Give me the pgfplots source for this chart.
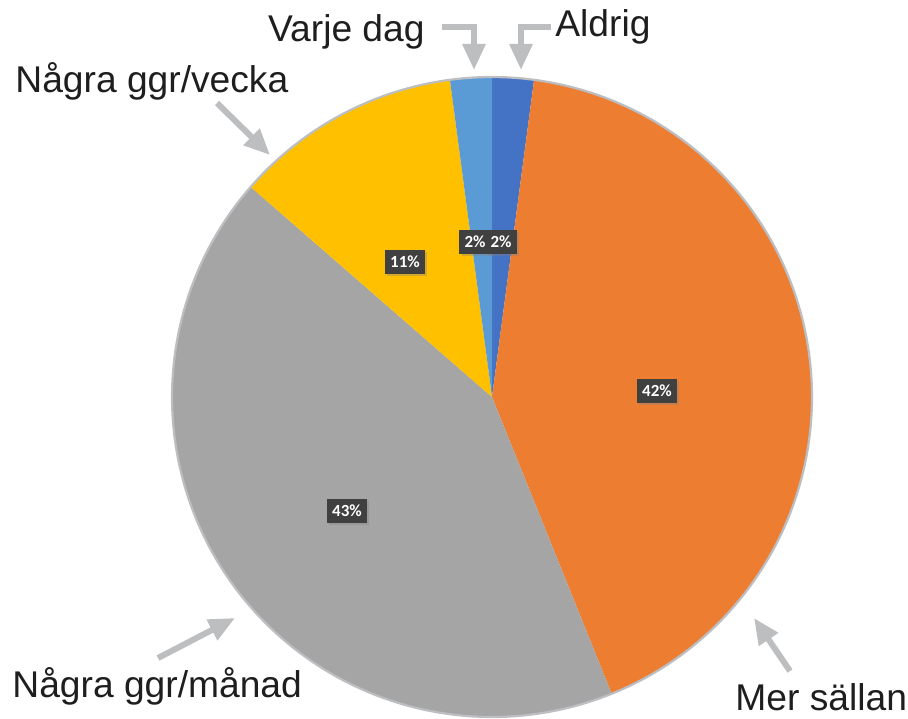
\documentclass[border=0pt]{standalone}
\usepackage{pgfplots}
\pgfplotsset{compat=1.18}
\usepackage{pgfplotstable}
\usepackage{fontspec}
\setmainfont{Liberation Sans}
\newfontfamily\dlfont{Carlito}
\usetikzlibrary{arrows.meta,shadows}
\definecolor{cA}{HTML}{4472C4}
\definecolor{cB}{HTML}{ED7D31}
\definecolor{cC}{HTML}{A5A5A5}
\definecolor{cD}{HTML}{FFC000}
\definecolor{cE}{HTML}{5B9BD5}
\definecolor{rim}{HTML}{BCBEC2}
\definecolor{arr}{HTML}{BDBEC0}
\definecolor{lbl}{HTML}{404040}
\definecolor{txt}{HTML}{1E1E1E}

\pgfplotstableread{
name value
Aldrig 2.1
MerSallan 41.8
NagraManad 42.5
NagraVecka 11.5
VarjeDag 2.1
}\piedata

\pgfplotstablegetelem{0}{value}\of\piedata \let\vA\pgfplotsretval
\pgfplotstablegetelem{1}{value}\of\piedata \let\vB\pgfplotsretval
\pgfplotstablegetelem{2}{value}\of\piedata \let\vC\pgfplotsretval
\pgfplotstablegetelem{3}{value}\of\piedata \let\vD\pgfplotsretval
\pgfplotstablegetelem{4}{value}\of\piedata \let\vE\pgfplotsretval
\pgfmathsetmacro\aA{90}
\pgfmathsetmacro\aB{\aA-3.6*\vA}
\pgfmathsetmacro\aC{\aB-3.6*\vB}
\pgfmathsetmacro\aD{\aC-3.6*\vC}
\pgfmathsetmacro\aE{\aD-3.6*\vD}
\pgfmathsetmacro\aF{\aE-3.6*\vE}

\def\cx{492}
\def\cy{321}
\def\R{320}

\begin{document}
\begin{tikzpicture}
\begin{axis}[name=ax,
  scale only axis, width=454pt, height=359pt,
  xmin=0, xmax=908, ymin=0, ymax=718,
  hide axis, clip=true]
\addplot[fill=cA, draw=none, domain=\aB:\aA, samples=20] ({\cx+\R*cos(x)},{\cy+\R*sin(x)}) -- (axis cs:\cx,\cy) -- cycle;
\addplot[fill=cB, draw=none, domain=\aC:\aB, samples=120] ({\cx+\R*cos(x)},{\cy+\R*sin(x)}) -- (axis cs:\cx,\cy) -- cycle;
\addplot[fill=cC, draw=none, domain=\aD:\aC, samples=120] ({\cx+\R*cos(x)},{\cy+\R*sin(x)}) -- (axis cs:\cx,\cy) -- cycle;
\addplot[fill=cD, draw=none, domain=\aE:\aD, samples=40] ({\cx+\R*cos(x)},{\cy+\R*sin(x)}) -- (axis cs:\cx,\cy) -- cycle;
\addplot[fill=cE, draw=none, domain=\aF:\aE, samples=20] ({\cx+\R*cos(x)},{\cy+\R*sin(x)}) -- (axis cs:\cx,\cy) -- cycle;
\addplot[draw=rim, line width=1.1pt, domain=0:360, samples=240] ({\cx+\R*cos(x)},{\cy+\R*sin(x)});

% data labels
\tikzset{dl/.style={fill=lbl, text=white, font=\dlfont\bfseries\fontsize{8.5}{10}\selectfont,
  inner xsep=2.6pt, inner ysep=0pt, minimum height=12pt,
  drop shadow={opacity=0.35, shadow xshift=1.2pt, shadow yshift=-1.2pt}}}
\node[dl] at (axis cs:475,476) {2\%};
\node[dl] at (axis cs:501,476) {2\%};
\node[dl] at (axis cs:405,456) {11\%};
\node[dl] at (axis cs:657,327) {42\%};
\node[dl] at (axis cs:347,207) {43\%};

% arrows
\tikzset{ar/.style={draw=arr, line width=3pt, -{Triangle[length=13pt,width=11pt]}}}
\draw[ar] (axis cs:551,691) -- (axis cs:521,691) -- (axis cs:521,648);
\draw[ar] (axis cs:442,691) -- (axis cs:474,691) -- (axis cs:474,648);
\draw[ar] (axis cs:217,615) -- (axis cs:270,563);
\draw[ar] (axis cs:158,60) -- (axis cs:235,100);
\draw[ar] (axis cs:790,47) -- (axis cs:754,100);

% category labels
\tikzset{cl/.style={inner sep=0pt, text=txt, font=\fontsize{18.6}{22}\selectfont}}
\node[cl, anchor=base west] at (axis cs:555,681) {Aldrig};
\node[cl, anchor=base east] at (axis cs:425,676) {Varje dag};
\node[cl, anchor=base west] at (axis cs:15,625) {Några ggr/vecka};
\node[cl, anchor=base west] at (axis cs:12,21) {Några ggr/månad};
\node[cl, anchor=base west] at (axis cs:735,8) {Mer sällan};
\end{axis}
\pgfresetboundingbox
\useasboundingbox (ax.south west) rectangle (ax.north east);
\end{tikzpicture}
\end{document}
